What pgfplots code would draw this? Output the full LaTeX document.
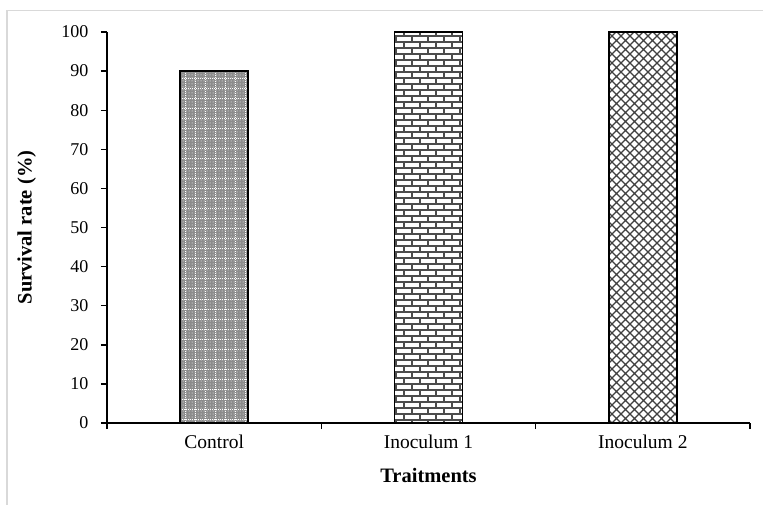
\documentclass[border=0pt]{standalone}
\usepackage{fontspec}
\setmainfont{Liberation Serif}
\usepackage{pgfplots}
\pgfplotsset{compat=1.18}
\usetikzlibrary{patterns}

\pgfdeclarepatternformonly{mybricks}{\pgfpoint{-1pt}{-1pt}}{\pgfpoint{17pt}{13pt}}{\pgfpoint{16pt}{12pt}}{%
  \pgfsetlinewidth{2pt}%
  \pgfpathmoveto{\pgfpoint{0pt}{0pt}}\pgfpathlineto{\pgfpoint{16pt}{0pt}}%
  \pgfpathmoveto{\pgfpoint{0pt}{6pt}}\pgfpathlineto{\pgfpoint{16pt}{6pt}}%
  \pgfpathmoveto{\pgfpoint{4pt}{0pt}}\pgfpathlineto{\pgfpoint{4pt}{6pt}}%
  \pgfpathmoveto{\pgfpoint{12pt}{6pt}}\pgfpathlineto{\pgfpoint{12pt}{12pt}}%
  \pgfusepath{stroke}}

\pgfdeclarepatternformonly{mycross}{\pgfpoint{-1pt}{-1pt}}{\pgfpoint{10pt}{10pt}}{\pgfpoint{9pt}{9pt}}{%
  \pgfsetlinewidth{1.2pt}%
  \pgfpathmoveto{\pgfpoint{0pt}{0pt}}\pgfpathlineto{\pgfpoint{9pt}{9pt}}%
  \pgfpathmoveto{\pgfpoint{0pt}{9pt}}\pgfpathlineto{\pgfpoint{9pt}{0pt}}%
  \pgfusepath{stroke}}

\pgfdeclarepatternformonly{mygrid}{\pgfpoint{-1pt}{-1pt}}{\pgfpoint{11pt}{11pt}}{\pgfpoint{10pt}{10pt}}{%
  \pgfsetlinewidth{1pt}%
  \pgfsetdash{{1pt}{1pt}}{0pt}%
  \pgfpathmoveto{\pgfpoint{5pt}{0pt}}\pgfpathlineto{\pgfpoint{5pt}{10pt}}%
  \pgfpathmoveto{\pgfpoint{0pt}{5pt}}\pgfpathlineto{\pgfpoint{10pt}{5pt}}%
  \pgfusepath{stroke}}

\pgfplotstableread{
x y
0 90
}\tcontrol
\pgfplotstableread{
x y
1 100
}\tinoca
\pgfplotstableread{
x y
2 100
}\tinocb

\newcommand{\fs}{\fontsize{19.5}{23}\selectfont}
\newcommand{\fy}{\fontsize{18}{21}\selectfont}
\newcommand{\fl}{\fontsize{20.5}{24}\selectfont}

\begin{document}
\begin{tikzpicture}
\useasboundingbox (-107pt,-81pt) rectangle (656pt,423pt);
\draw[black!15, line width=1.5pt] (-100pt,-82pt) -- (-100pt,412.5pt) -- (657pt,412.5pt);
\begin{axis}[
  at={(0pt,0pt)}, anchor=south west,
  scale only axis,
  width=643pt, height=391pt,
  xmin=-0.5, xmax=2.5,
  ymin=0, ymax=100,
  axis x line=bottom, axis y line=left,
  axis line style={-, line width=1.6pt},
  ytick={0,10,...,100},
  xtick={0,1,2},
  xticklabels={Control, Inoculum 1, Inoculum 2},
  minor xtick={-0.5,0.5,1.5,2.5},
  major x tick style={draw=none},
  tick align=outside,
  major tick length=6pt,
  minor tick length=6pt,
  tick style={black, line width=1.4pt},
  xticklabel style={font=\fs, yshift=-2pt},
  yticklabel style={font=\fy, xshift=-9pt},
  /pgf/number format/assume math mode=true,
  ylabel={\textbf{Survival rate (\%)}},
  xlabel={\textbf{Traitments}},
  label style={font=\fl},
  ylabel style={at={(axis description cs:-0.125,0.5)}, anchor=center},
  xlabel style={at={(axis description cs:0.5,-0.133)}, anchor=center},
  ybar, bar width=68pt, bar shift=0pt,
  clip=false,
]
\addplot[draw=black, line width=1.4pt, fill=black!45,
  postaction={pattern=dots, pattern color=white},
  postaction={pattern=mygrid, pattern color=white}] table[x=x,y=y] {\tcontrol};
\addplot[draw=black, line width=1.4pt, fill=white,
  postaction={pattern=mybricks, pattern color=black!70}] table[x=x,y=y] {\tinoca};
\addplot[draw=black, line width=1.4pt, fill=white,
  postaction={pattern=mycross, pattern color=black!75}] table[x=x,y=y] {\tinocb};
\end{axis}
\end{tikzpicture}
\end{document}
